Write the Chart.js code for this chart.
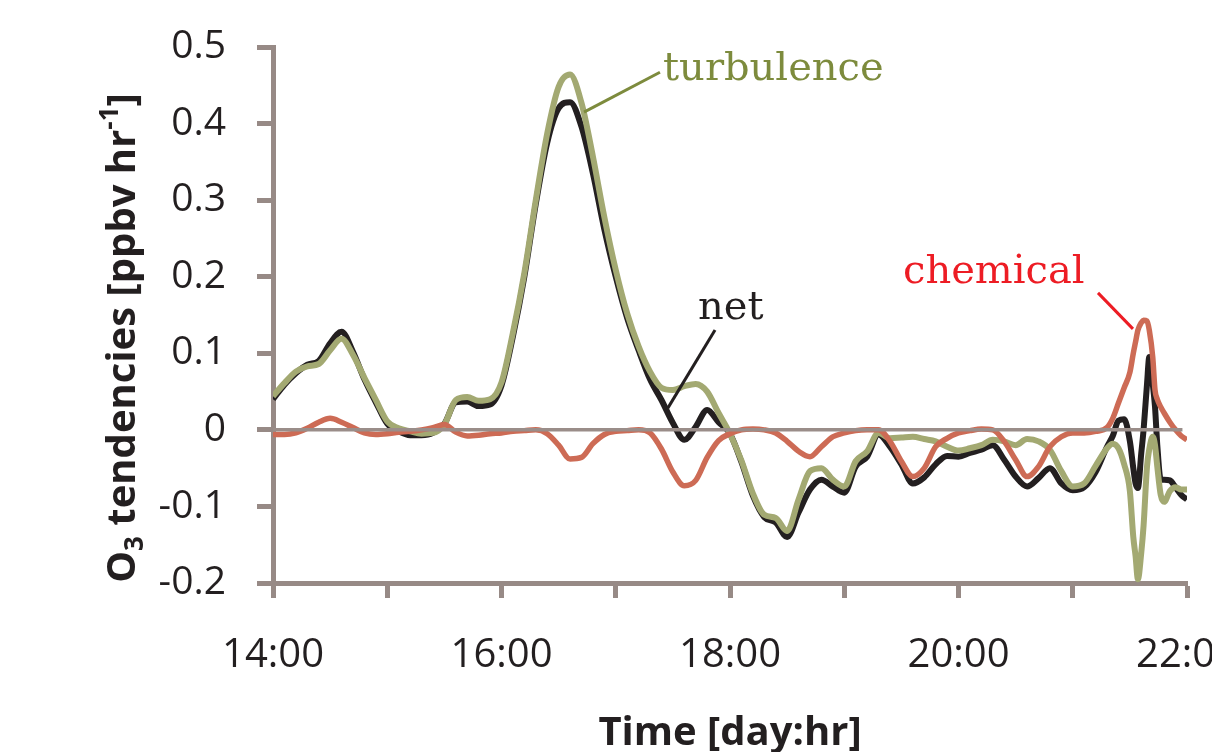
<!DOCTYPE html>
<html><head><meta charset="utf-8">
<script src="https://cdn.jsdelivr.net/npm/chart.js@4/dist/chart.umd.min.js"></script>
<style>html,body{margin:0;padding:0;background:#fff;}canvas{display:block;}</style>
</head><body>
<canvas id="c" width="1212" height="752"></canvas>
<script>
// time in hours (14 = 14:00)
const times = [14.0,14.1,14.2,14.3,14.4,14.5,14.6,14.7,14.8,14.9,
15.0,15.1,15.2,15.3,15.4,15.5,15.6,15.7,15.8,15.9,
16.0,16.1,16.2,16.3,16.4,16.5,16.6,16.7,16.8,16.9,
17.0,17.1,17.2,17.3,17.4,17.5,17.6,17.7,17.8,17.9,
18.0,18.1,18.2,18.3,18.4,18.5,18.6,18.7,18.8,18.9,
19.0,19.1,19.2,19.3,19.4,19.5,19.6,19.7,19.8,19.9,
20.0,20.1,20.2,20.3,20.4,20.5,20.6,20.7,20.8,20.9,
21.0,21.1,21.2,21.3,21.35,21.4,21.45,21.5,21.53,21.55,
21.57,21.6,21.62,21.65,21.67,21.7,21.72,21.74,21.77,21.8,
21.85,21.9,21.95,22.0];

const turbulence = [0.044,0.061,0.076,0.083,0.086,0.104,0.119,0.098,0.068,0.039,
0.011,0.002,-0.002,-0.005,-0.004,0.007,0.039,0.043,0.038,0.040,
0.062,0.127,0.205,0.300,0.387,0.448,0.464,0.427,0.357,0.278,
0.209,0.152,0.109,0.076,0.055,0.052,0.057,0.060,0.050,0.022,
-0.005,-0.040,-0.083,-0.111,-0.115,-0.132,-0.091,-0.054,-0.050,-0.065,
-0.074,-0.041,-0.028,-0.004,-0.011,-0.010,-0.009,-0.012,-0.015,-0.022,
-0.027,-0.024,-0.020,-0.013,-0.015,-0.020,-0.012,-0.015,-0.026,-0.054,
-0.074,-0.070,-0.047,-0.024,-0.018,-0.024,-0.045,-0.080,-0.140,-0.165,
-0.195,-0.160,-0.125,-0.048,-0.025,-0.009,-0.020,-0.048,-0.085,-0.094,
-0.080,-0.075,-0.078,-0.078];

const net = [0.040,0.059,0.074,0.085,0.090,0.113,0.128,0.102,0.066,0.036,
0.008,-0.002,-0.007,-0.007,-0.004,0.008,0.036,0.037,0.031,0.033,
0.058,0.122,0.200,0.295,0.375,0.420,0.428,0.396,0.335,0.262,
0.200,0.146,0.104,0.066,0.039,0.009,-0.013,0.004,0.026,0.010,
-0.005,-0.042,-0.086,-0.114,-0.121,-0.140,-0.108,-0.078,-0.065,-0.074,
-0.082,-0.048,-0.035,-0.006,-0.022,-0.045,-0.070,-0.062,-0.045,-0.034,
-0.035,-0.030,-0.026,-0.020,-0.039,-0.061,-0.074,-0.063,-0.050,-0.070,
-0.079,-0.075,-0.055,-0.022,-0.008,0.012,0.014,-0.015,-0.050,-0.070,
-0.076,-0.030,0.000,0.060,0.095,0.060,0.030,-0.020,-0.065,-0.065,
-0.066,-0.075,-0.085,-0.091];

const chemical = [-0.006,-0.006,-0.004,0.002,0.010,0.015,0.010,0.003,-0.004,-0.006,
-0.005,-0.003,-0.002,0.000,0.003,0.007,-0.003,-0.008,-0.007,-0.005,
-0.004,-0.002,-0.001,0.000,-0.005,-0.020,-0.038,-0.036,-0.018,-0.006,
-0.002,-0.001,0.000,-0.004,-0.025,-0.055,-0.073,-0.066,-0.036,-0.014,
-0.005,0.000,0.001,0.000,-0.004,-0.015,-0.028,-0.035,-0.022,-0.009,
-0.004,-0.001,0.000,0.000,-0.015,-0.041,-0.061,-0.050,-0.022,-0.011,
-0.004,-0.001,0.001,0.000,-0.015,-0.039,-0.061,-0.048,-0.022,-0.009,
-0.004,-0.004,-0.002,0.003,0.015,0.035,0.055,0.075,0.100,0.115,
0.130,0.140,0.143,0.142,0.130,0.095,0.052,0.040,0.030,0.022,
0.010,0.000,-0.008,-0.013];

const hourLabels = ['14:00','','16:00','','18:00','','20:00','','22:00'];
const seriesNames = ['turbulence','net','chemical'];

const AXIS = '#978a86';
const TXT = '#231f20';

function pts(vals){ return times.map((t,i)=>({x:t, y:vals[i]})); }

const overlay = {
  id:'overlay',
  afterDatasetsDraw(chart){
    const {ctx, scales:{x,y}, chartArea} = chart;
    ctx.save();
    ctx.strokeStyle = '#9a8d89'; ctx.lineWidth = 3.5;
    const y0 = y.getPixelForValue(0);
    ctx.beginPath(); ctx.moveTo(chartArea.left, y0); ctx.lineTo(x.getPixelForValue(21.96), y0); ctx.stroke();
    ctx.restore();
  },
  afterDraw(chart){
    const {ctx, scales:{x,y}} = chart;
    ctx.save();
    // annotations
    const ann = [
      {text:seriesNames[0], color:'#7d8b3d', tx:17.414, ty:0.457, l:[17.387,0.467,16.722,0.415]},
      {text:seriesNames[1], color:TXT, tx:17.72, ty:0.145, l:[17.869,0.1305,17.457,0.0287]},
      {text:seriesNames[2], color:'#ed1c24', tx:19.514, ty:0.192, l:[21.221,0.1789,21.527,0.1319]}
    ];
    ctx.font = '40px "DejaVu Serif"';
    ctx.textBaseline = 'alphabetic'; ctx.textAlign = 'left';
    for (const a of ann){
      ctx.fillStyle = a.color;
      ctx.fillText(a.text, x.getPixelForValue(a.tx), y.getPixelForValue(a.ty));
      ctx.strokeStyle = a.color; ctx.lineWidth = 3;
      ctx.beginPath();
      ctx.moveTo(x.getPixelForValue(a.l[0]), y.getPixelForValue(a.l[1]));
      ctx.lineTo(x.getPixelForValue(a.l[2]), y.getPixelForValue(a.l[3]));
      ctx.stroke();
    }
    // x title
    ctx.fillStyle = TXT;
    ctx.font = 'bold 40px "Open Sans"';
    ctx.textAlign = 'center';
    ctx.fillText('Time [day:hr]', 730, 745);
    // y title with sub/superscript
    const pieces = [
      {t:'O', s:40, dy:0},
      {t:'3', s:26, dy:8},
      {t:' tendencies [ppbv hr', s:40, dy:0},
      {t:'-1', s:26, dy:-17},
      {t:']', s:40, dy:0}
    ];
    ctx.translate(135, 338);
    ctx.rotate(-Math.PI/2);
    ctx.textAlign = 'left';
    let total = 0;
    for (const p of pieces){ ctx.font = 'bold '+p.s+'px "Open Sans"'; p.w = ctx.measureText(p.t).width; total += p.w; }
    let cx = -total/2;
    for (const p of pieces){ ctx.font = 'bold '+p.s+'px "Open Sans"'; ctx.fillText(p.t, cx, p.dy); cx += p.w; }
    ctx.restore();
  }
};

new Chart(document.getElementById('c'), {
  type:'line',
  data:{
    datasets:[
      {label:seriesNames[2], data:pts(chemical), borderColor:'#cd6b55', borderWidth:5.5, pointRadius:0, cubicInterpolationMode:'monotone', order:0},
      {label:seriesNames[0], data:pts(turbulence), borderColor:'#a3a972', borderWidth:6, pointRadius:0, cubicInterpolationMode:'monotone', order:1},
      {label:seriesNames[1], data:pts(net), borderColor:'#231f20', borderWidth:6, pointRadius:0, cubicInterpolationMode:'monotone', order:2}
    ]
  },
  options:{
    responsive:false, animation:false, devicePixelRatio:1,
    layout:{padding:{top:47, right:25, left:0, bottom:0}},
    plugins:{legend:{display:false}, tooltip:{enabled:false}},
    scales:{
      x:{
        type:'linear', min:14, max:22,
        ticks:{stepSize:1, autoSkip:false, maxRotation:0, color:TXT, padding:34,
          font:{family:'"Open Sans"', size:40},
          callback:(v)=> hourLabels[Math.round(v-14)] },
        grid:{drawOnChartArea:false, drawTicks:true, tickLength:15, tickWidth:5, tickColor:AXIS},
        border:{display:true, color:AXIS, width:5},
        afterFit(s){ s.height = 169; s.paddingLeft = 0; s.paddingRight = 0; }
      },
      y:{
        min:-0.2, max:0.5,
        ticks:{stepSize:0.1, color:TXT, padding:31,
          font:{family:'"Open Sans"', size:39},
          callback:(v)=> String(Math.round(v*10)/10) },
        grid:{drawOnChartArea:false, drawTicks:true, tickLength:16, tickWidth:5, tickColor:AXIS},
        border:{display:true, color:AXIS, width:5},
        afterFit(s){ s.width = 273; s.paddingTop = 0; s.paddingBottom = 0; }
      }
    }
  },
  plugins:[overlay]
});
</script>
</body></html>
